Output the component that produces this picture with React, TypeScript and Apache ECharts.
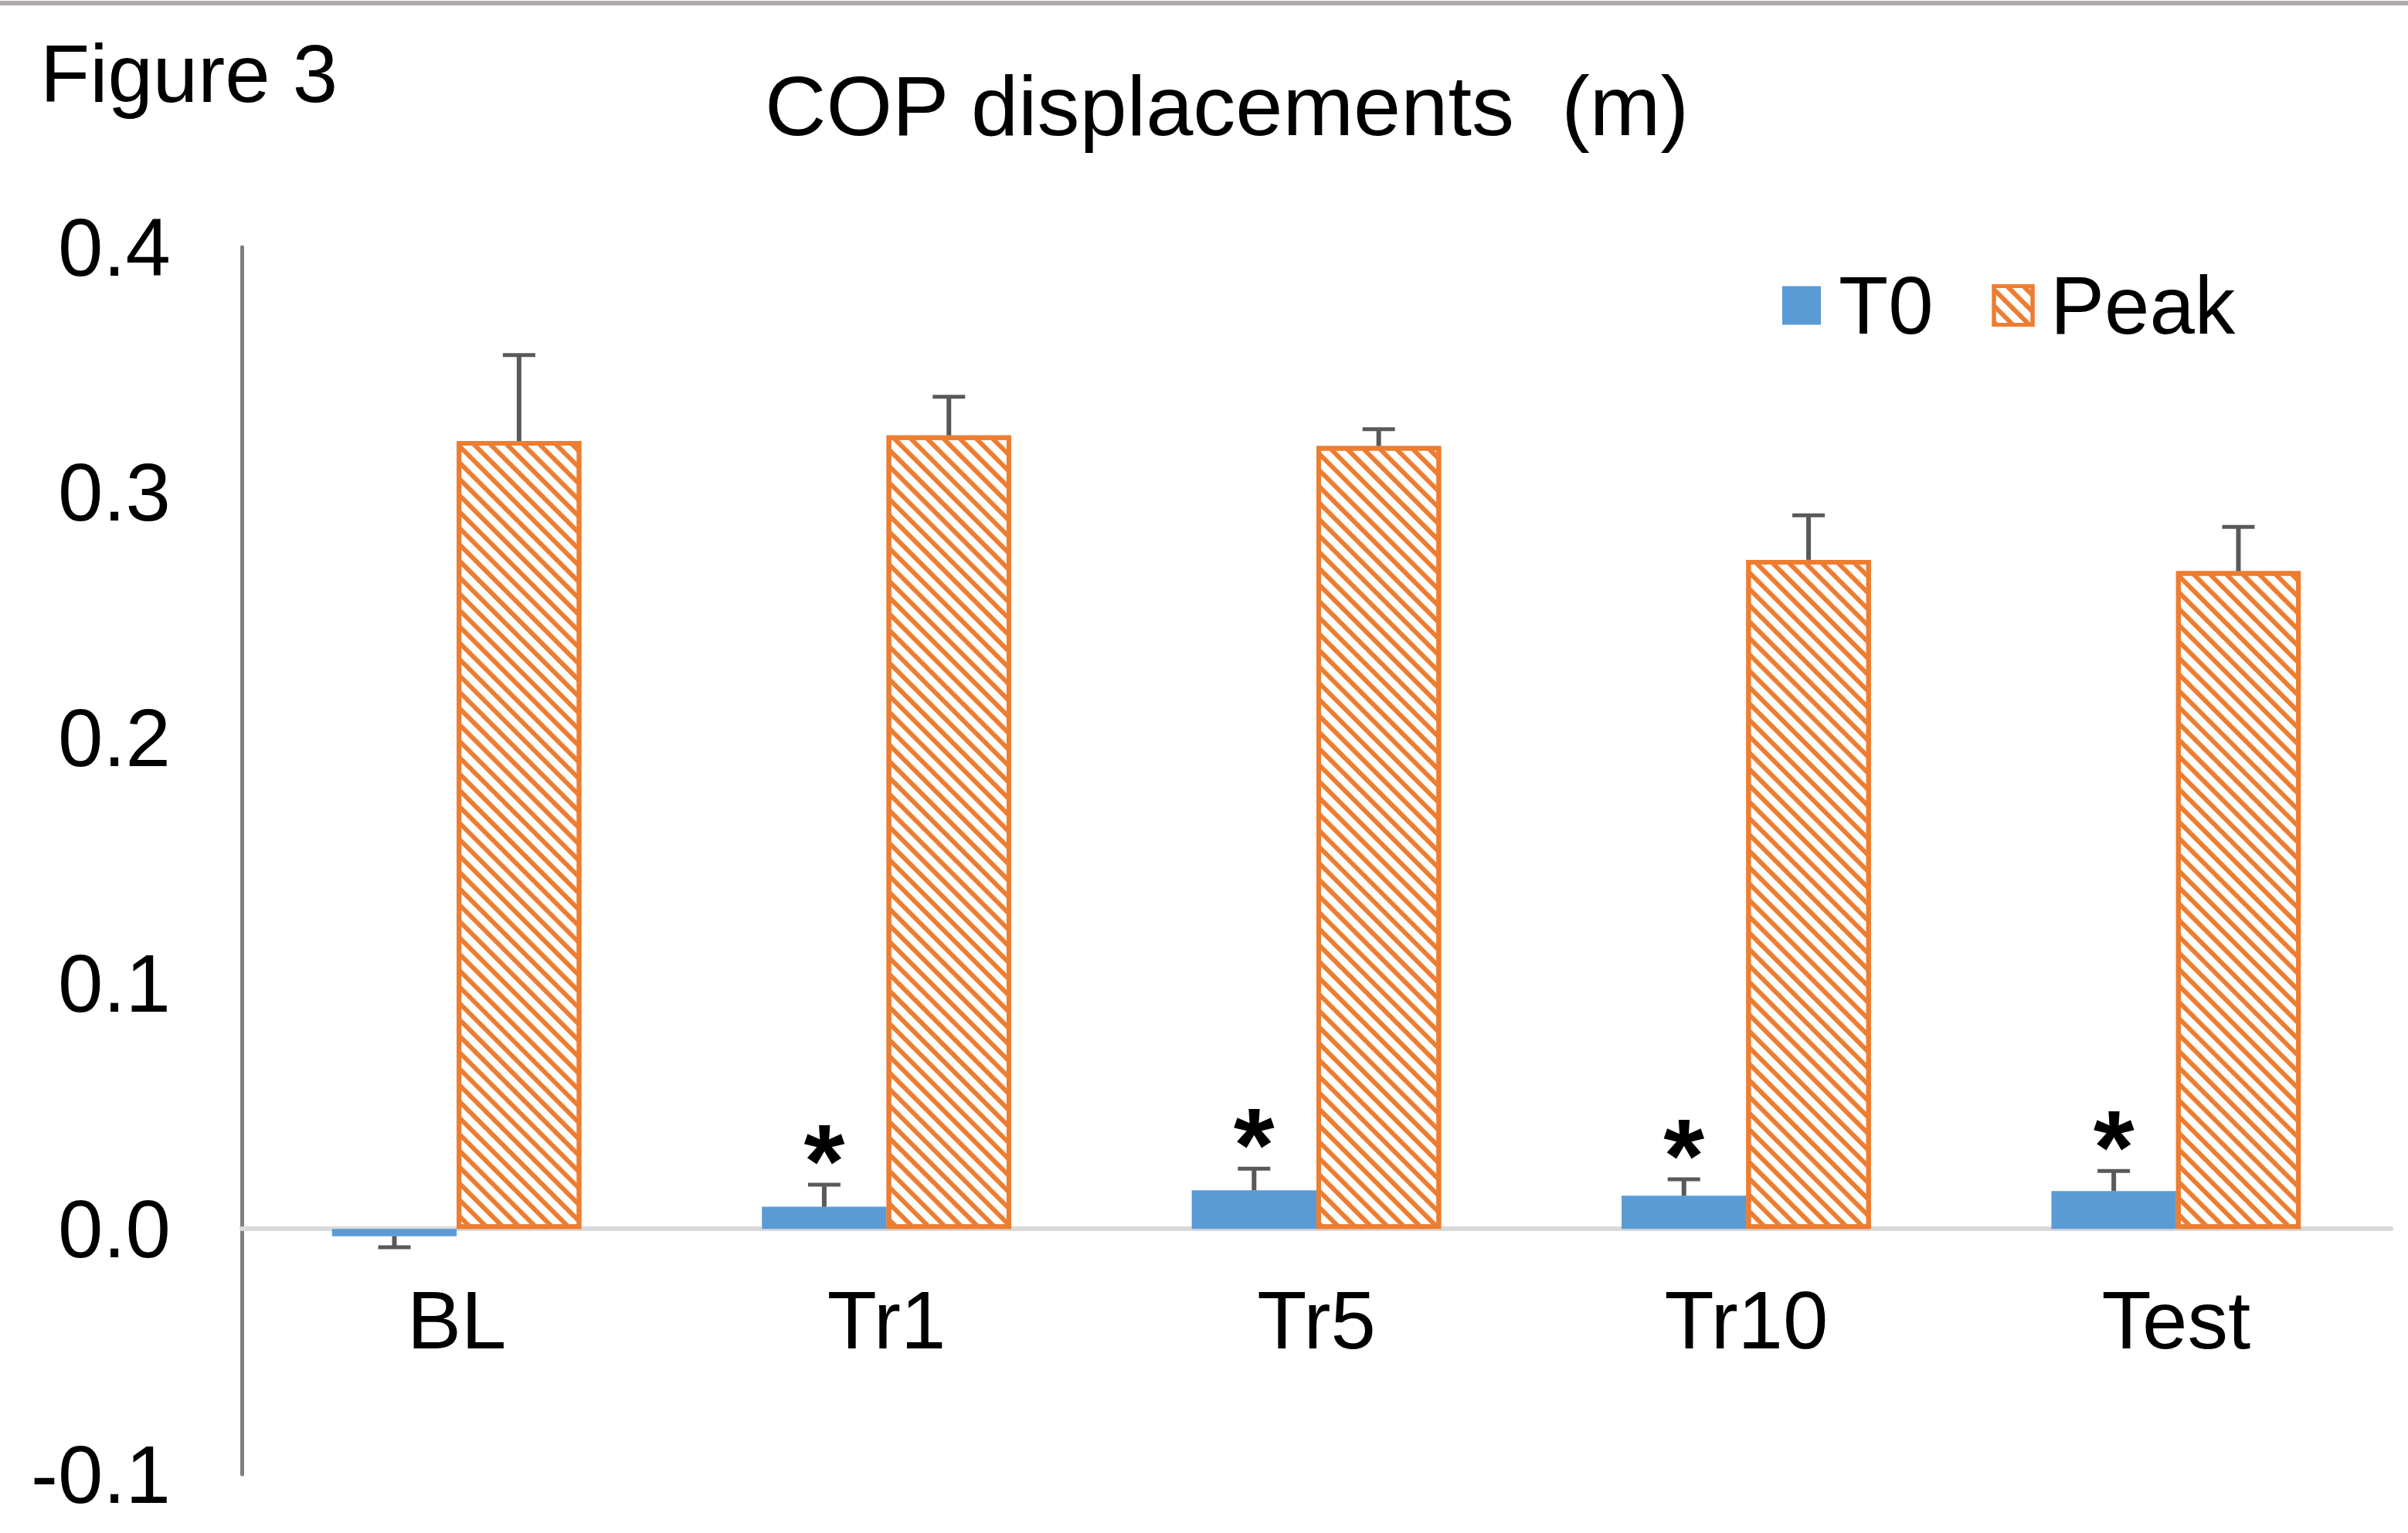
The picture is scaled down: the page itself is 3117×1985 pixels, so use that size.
import React, { useEffect, useRef } from "react";
import * as echarts from "echarts";

const categories = ["BL", "Tr1", "Tr5", "Tr10", "Test"];
const t0Values = [-0.003, 0.009, 0.0157, 0.0135, 0.0154];
const t0Errors = [0.0045, 0.009, 0.0088, 0.0067, 0.0082];
const peakValues = [0.321, 0.3233, 0.319, 0.2726, 0.268];
const peakErrors = [0.035, 0.0157, 0.0068, 0.0181, 0.018];
const t0Significant = [false, true, true, true, true];
const yTicks = { min: -0.1, max: 0.4, interval: 0.1 };

const FONT = "'Liberation Sans', Arial, Helvetica, sans-serif";
const BLUE = "#5B9BD5";
const ORANGE = "#ED7D31";
const ERR = "#595959";

const GRID_TOP = 320;
const GRID_BOTTOM = 76;
const CHART_H = 1985;

export default function App() {
  const ref = useRef<HTMLDivElement>(null);

  useEffect(() => {
    if (!ref.current) return;
    const chart = echarts.init(ref.current, undefined, { renderer: "svg" });

    const barFrac = 0.29; // each bar's share of the category band (barCategoryGap 42%, barGap 0)

    // distance from grid bottom (min) up to the zero line, derived from the axis extent
    const gridH = CHART_H - GRID_TOP - GRID_BOTTOM;
    const zeroOffset = (gridH * (0 - yTicks.min)) / (yTicks.max - yTicks.min);

    const errData = (vals: number[], errs: number[], sig: boolean[] | null) =>
      vals.map((v, i) => [i, v, v + Math.sign(v) * errs[i], sig && sig[i] ? 1 : 0]);

    const makeErrRender = (side: number) => (params: any, api: any) => {
      const i = api.value(0);
      const m = api.value(1);
      const e = api.value(2);
      const s = api.value(3);
      const base = api.coord([i, m]);
      const end = api.coord([i, e]);
      const band = api.size([1, 0])[0];
      const x = base[0] + side * band * barFrac * 0.5;
      const children: any[] = [
        {
          type: "line",
          shape: { x1: x, y1: base[1], x2: x, y2: end[1] },
          style: { stroke: ERR, lineWidth: 6 },
        },
        {
          type: "line",
          shape: { x1: x - 21, y1: end[1], x2: x + 21, y2: end[1] },
          style: { stroke: ERR, lineWidth: 5 },
        },
      ];
      if (s) {
        children.push({
          type: "text",
          style: {
            text: "*",
            x: x,
            y: end[1] - 31,
            align: "center",
            verticalAlign: "middle",
            fontSize: 136,
            fontWeight: "bold",
            fontFamily: FONT,
            fill: "#000",
          },
        });
      }
      return { type: "group", children };
    };

    const option: any = {
      animation: false,
      backgroundColor: "#fff",
      graphic: [
        {
          type: "rect",
          left: 0,
          top: 1,
          shape: { width: 3117, height: 6 },
          style: { fill: "#AFABAB" },
          silent: true,
        },
        {
          type: "text",
          x: 52,
          y: 95,
          style: {
            text: "Figure 3",
            fontSize: 105,
            fontFamily: FONT,
            fill: "#000",
            align: "left",
            verticalAlign: "middle",
          },
        },
        {
          type: "text",
          x: 1588,
          y: 136,
          style: {
            text: "COP displacements  (m)",
            fontSize: 110,
            fontFamily: FONT,
            fill: "#000",
            align: "center",
            verticalAlign: "middle",
          },
        },
      ],
      legend: {
        data: [
          { name: "T0" },
          { name: "Peak", itemStyle: { borderColor: ORANGE, borderWidth: 5 } },
        ],
        left: 2302,
        top: 338,
        itemWidth: 50,
        itemHeight: 50,
        itemGap: 76,
        icon: "rect",
        textStyle: {
          fontSize: 105,
          lineHeight: 105,
          fontFamily: FONT,
          color: "#000",
          padding: [0, 0, 0, 18],
        },
      },
      grid: {
        left: 313,
        right: 22,
        top: GRID_TOP,
        bottom: GRID_BOTTOM,
        containLabel: false,
        outerBoundsMode: "none",
      },
      xAxis: {
        type: "category",
        data: categories,
        offset: -zeroOffset,
        axisLine: { onZero: false, lineStyle: { color: "#D9D9D9", width: 6 } },
        axisTick: { show: false },
        axisLabel: {
          fontSize: 105,
          fontFamily: FONT,
          color: "#000",
          margin: 66,
          interval: 0,
        },
        z: 1,
      },
      yAxis: {
        type: "value",
        min: yTicks.min,
        max: yTicks.max,
        interval: yTicks.interval,
        splitLine: { show: false },
        axisTick: { show: false },
        axisLine: { show: true, lineStyle: { color: "#7F7F7F", width: 5 } },
        axisLabel: {
          fontSize: 105,
          fontFamily: FONT,
          color: "#000",
          margin: 92,
          formatter: (v: number) => (Math.abs(v) < 1e-9 ? "0.0" : v.toFixed(1)),
        },
      },
      series: [
        {
          name: "T0",
          type: "bar",
          data: t0Values,
          barGap: "0%",
          barCategoryGap: "42%",
          itemStyle: { color: BLUE },
          z: 2,
        },
        {
          name: "Peak",
          type: "bar",
          data: peakValues,
          barGap: "0%",
          barCategoryGap: "42%",
          itemStyle: {
            color: "#fff",
            borderColor: ORANGE,
            borderWidth: 6,
            decal: {
              symbol: "rect",
              symbolSize: 1,
              color: ORANGE,
              backgroundColor: "#fff",
              dashArrayX: [1, 0],
              dashArrayY: [6, 9],
              rotation: Math.PI / 4,
            },
          },
          z: 2,
        },
        {
          name: "T0err",
          type: "custom",
          data: errData(t0Values, t0Errors, t0Significant),
          renderItem: makeErrRender(-1),
          z: 5,
          silent: true,
        },
        {
          name: "PeakErr",
          type: "custom",
          data: errData(peakValues, peakErrors, null),
          renderItem: makeErrRender(1),
          z: 5,
          silent: true,
        },
      ],
    };

    chart.setOption(option);
    return () => chart.dispose();
  }, []);

  return (
    <div
      ref={ref}
      style={{ position: "absolute", left: 0, top: 0, width: 3117, height: CHART_H }}
    />
  );
}
